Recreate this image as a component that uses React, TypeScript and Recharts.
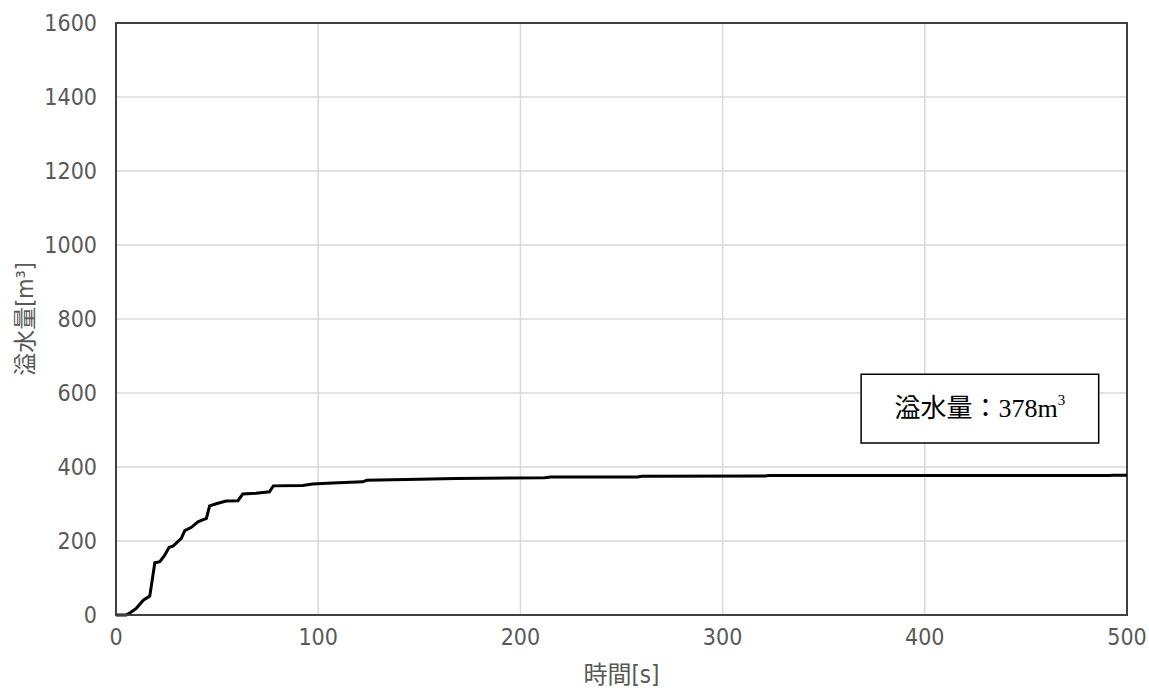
import React from "react";
import {
  LineChart,
  Line,
  XAxis,
  YAxis,
  CartesianGrid,
  ReferenceArea,
} from "recharts";

const times = [
  0, 5, 7, 10, 13.5, 16.7, 19.2, 21.7, 24.1, 26.3, 28.2, 32.3, 34, 37.3, 40.5,
  44.7, 46.3, 50.4, 54.5, 60.3, 62.7, 69.3, 75.9, 77.8, 92.3, 97.2, 107, 122,
  124, 150, 168, 212, 215, 258, 260, 321, 323, 491, 493, 500,
];
const volumes = [
  0, 0, 6, 18, 40, 51, 141, 144, 162, 183, 186, 207, 228, 237, 252, 261, 295,
  302, 308, 309, 327, 329, 333, 349, 350, 354, 357, 360, 364, 367, 369, 371,
  373, 373, 375, 376, 377, 377, 378, 378,
];
const xTicks = [0, 100, 200, 300, 400, 500];
const yTicks = [0, 200, 400, 600, 800, 1000, 1200, 1400, 1600];
const xTitle = "時間[s]";
const yTitle = "溢水量[m³]";
const boxTextMain = "溢水量：378m";
const boxTextSup = "3";
const boxX = [368.5, 486];
const boxY = [465, 651];

const data = times.map((t, i) => ({ t, v: volumes[i] }));

const tickFont = "'DejaVu Sans Condensed', 'Noto Sans CJK JP', sans-serif";
const tickColor = "#595959";

const YTitle = (props: any) => {
  const vb = props.viewBox;
  const cx = vb.x + 25;
  const cy = vb.y + vb.height / 2;
  return (
    <text
      x={cx}
      y={cy}
      transform={`rotate(-90, ${cx}, ${cy})`}
      textAnchor="middle"
      dominantBaseline="central"
      fill={tickColor}
      style={{ fontFamily: tickFont, fontSize: 23 }}
    >
      {yTitle}
    </text>
  );
};

const XTitle = (props: any) => {
  const vb = props.viewBox;
  return (
    <text
      x={vb.x + vb.width / 2}
      y={vb.y + 60}
      textAnchor="middle"
      dominantBaseline="central"
      fill={tickColor}
      style={{ fontFamily: tickFont, fontSize: 24 }}
    >
      {xTitle}
    </text>
  );
};

const BoxLabel = (props: any) => {
  const vb = props.viewBox;
  return (
    <text
      x={vb.x + vb.width / 2}
      y={vb.y + vb.height / 2}
      textAnchor="middle"
      dominantBaseline="central"
      fill="#000"
      style={{
        fontFamily: "'Liberation Serif', 'Noto Sans CJK JP', serif",
        fontSize: 26,
      }}
    >
      {boxTextMain}
      <tspan fontSize={15} dy={-9}>
        {boxTextSup}
      </tspan>
    </text>
  );
};

export default function App() {
  return (
    <div style={{ position: "absolute", left: 0, top: 0, background: "#fff" }}>
      <LineChart
        width={1149}
        height={690}
        data={data}
        margin={{ top: 23, right: 22, left: 0, bottom: 0 }}
      >
        <CartesianGrid stroke="#d9d9d9" strokeWidth={1.5} />
        <XAxis
          dataKey="t"
          type="number"
          domain={[0, 500]}
          ticks={xTicks}
          height={75}
          tickLine={false}
          tickSize={0}
          tickMargin={14}
          axisLine={{ stroke: "#404040", strokeWidth: 2 }}
          tick={{ fill: tickColor, fontSize: 23, fontFamily: tickFont }}
          label={<XTitle />}
        />
        <YAxis
          type="number"
          domain={[0, 1600]}
          ticks={yTicks}
          width={116}
          tickLine={false}
          tickSize={0}
          tickMargin={19}
          axisLine={{ stroke: "#404040", strokeWidth: 2 }}
          tick={{ fill: tickColor, fontSize: 23, fontFamily: tickFont }}
          label={<YTitle />}
        />
        <ReferenceArea
          x1={0}
          x2={500}
          y1={0}
          y2={1600}
          fill="none"
          fillOpacity={0}
          stroke="#404040"
          strokeWidth={2}
        />
        <ReferenceArea
          x1={boxX[0]}
          x2={boxX[1]}
          y1={boxY[0]}
          y2={boxY[1]}
          fill="#fff"
          fillOpacity={1}
          stroke="#000"
          strokeWidth={1.5}
          label={<BoxLabel />}
        />
        <Line
          type="linear"
          dataKey="v"
          stroke="#000"
          strokeWidth={3}
          dot={false}
          isAnimationActive={false}
        />
      </LineChart>
    </div>
  );
}
